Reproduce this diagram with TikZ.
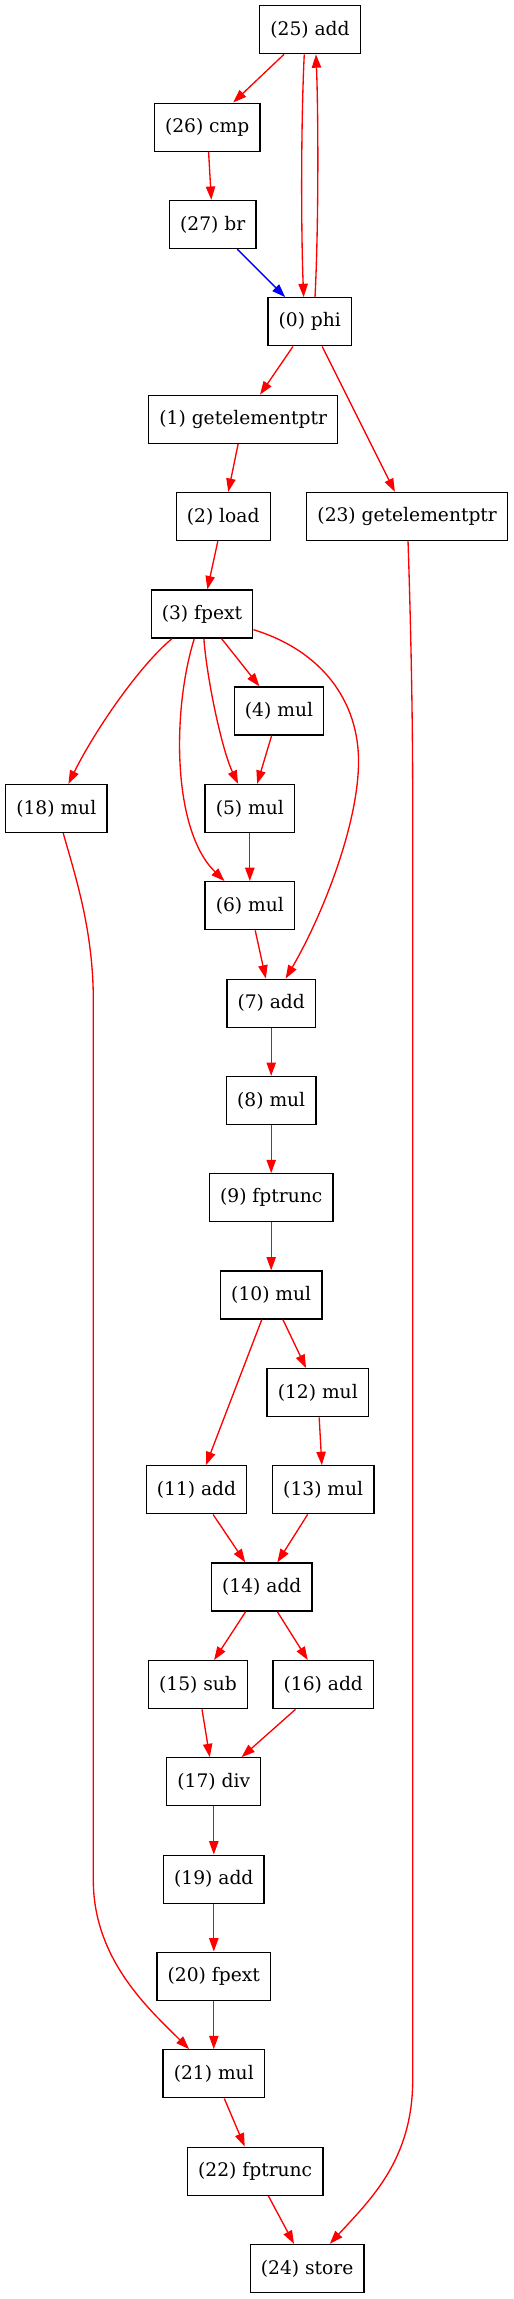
\documentclass[tikz,border=0pt]{standalone}
\usepackage{fontspec}
\newfontfamily\dvs{DejaVu Serif}
\usetikzlibrary{arrows.meta}
\begin{document}
\begin{tikzpicture}[x=0.75pt,y=-0.75pt,
  op/.style={draw=black, line width=1pt, rectangle, minimum height=36pt, minimum width=54pt, inner xsep=8pt, inner ysep=0pt, font=\dvs\fontsize{14pt}{16pt}\selectfont},
  re/.style={draw=red, line width=1pt, -{Triangle[length=10pt,width=7pt]}},
  be/.style={draw=blue, line width=1pt, -{Triangle[length=10pt,width=7pt]}}]
\useasboundingbox (0,0) rectangle (514,2299);
\node[op] (n25) at (310,29.7) {(25) add};
\node[op] (n26) at (207.2,127.2) {(26) cmp};
\node[op] (n27) at (212.7,224.5) {(27) br};
\node[op] (n0) at (309.8,321.8) {(0) phi};
\node[op] (n1) at (243.2,419.3) {(1) getelementptr};
\node[op] (n2) at (223.2,516.5) {(2) load};
\node[op] (n23) at (407.2,516.5) {(23) getelementptr};
\node[op] (n3) at (202,614) {(3) fpext};
\node[op] (n4) at (279,711) {(4) mul};
\node[op] (n18) at (56.3,808.5) {(18) mul};
\node[op] (n5) at (249.8,808.5) {(5) mul};
\node[op] (n6) at (249.8,905.7) {(6) mul};
\node[op] (n7) at (271.2,1003.2) {(7) add};
\node[op] (n8) at (271.2,1100.5) {(8) mul};
\node[op] (n9) at (271.2,1197.8) {(9) fptrunc};
\node[op] (n10) at (271.2,1295) {(10) mul};
\node[op] (n12) at (317.8,1392.7) {(12) mul};
\node[op] (n11) at (196.5,1489.8) {(11) add};
\node[op] (n13) at (323.2,1489.8) {(13) mul};
\node[op] (n14) at (261.8,1587) {(14) add};
\node[op] (n15) at (198,1684.7) {(15) sub};
\node[op] (n16) at (323.3,1684.7) {(16) add};
\node[op] (n17) at (213.8,1781.8) {(17) div};
\node[op] (n19) at (213.8,1879.2) {(19) add};
\node[op] (n20) at (213.8,1976.2) {(20) fpext};
\node[op] (n21) at (213.8,2073.8) {(21) mul};
\node[op] (n22) at (255.2,2171.2) {(22) fptrunc};
\node[op] (n24) at (307.2,2268.5) {(24) store};

\draw[re] (n25) -- (n26);
\draw[re] ([xshift=-4.3pt]n25.south) .. controls (301,120) and (301,230) .. ([xshift=-4.6pt]n0.north);
\draw[re] ([xshift=3.9pt]n0.north) .. controls (318.5,230) and (318.5,120) .. ([xshift=4.5pt]n25.south);
\draw[re] (n26) -- (n27);
\draw[be] (n27) -- (n0);
\draw[re] (n0) -- (n1);
\draw[re] (n0) -- (n23);
\draw[re] (n1) -- (n2);
\draw[re] (n2) -- (n3);
\draw[re] (n23) .. controls (410,600) and (412.7,700) .. (412.7,800) -- (412.7,2080) .. controls (412.7,2160) and (370,2200) .. (n24);
\draw[re] (n3) -- (n4);
\draw[re] (n3) .. controls (140,665) and (95,730) .. (n18);
\draw[re] (n3) .. controls (207,680) and (222,750) .. (n5);
\draw[re] (n3) .. controls (172,710) and (172,830) .. (n6);
\draw[re] (n3) .. controls (320,650) and (360,700) .. (358.5,765) .. controls (357,830) and (320,920) .. (n7);
\draw[re] (n4) -- (n5);
\draw[re] (n5) -- (n6);
\draw[re] (n6) -- (n7);
\draw[re] (n18) .. controls (75,875) and (93.3,930) .. (93.3,1000) -- (93.3,1880) .. controls (93.3,1960) and (150,2010) .. (n21);
\draw[re] (n7) -- (n8);
\draw[re] (n8) -- (n9);
\draw[re] (n9) -- (n10);
\draw[re] (n10) -- (n11);
\draw[re] (n10) -- (n12);
\draw[re] (n12) -- (n13);
\draw[re] (n11) -- (n14);
\draw[re] (n13) -- (n14);
\draw[re] (n14) -- (n15);
\draw[re] (n14) -- (n16);
\draw[re] (n15) -- (n17);
\draw[re] (n16) -- (n17);
\draw[re] (n17) -- (n19);
\draw[re] (n19) -- (n20);
\draw[re] (n20) -- (n21);
\draw[re] (n21) -- (n22);
\draw[re] (n22) -- (n24);
\end{tikzpicture}
\end{document}
